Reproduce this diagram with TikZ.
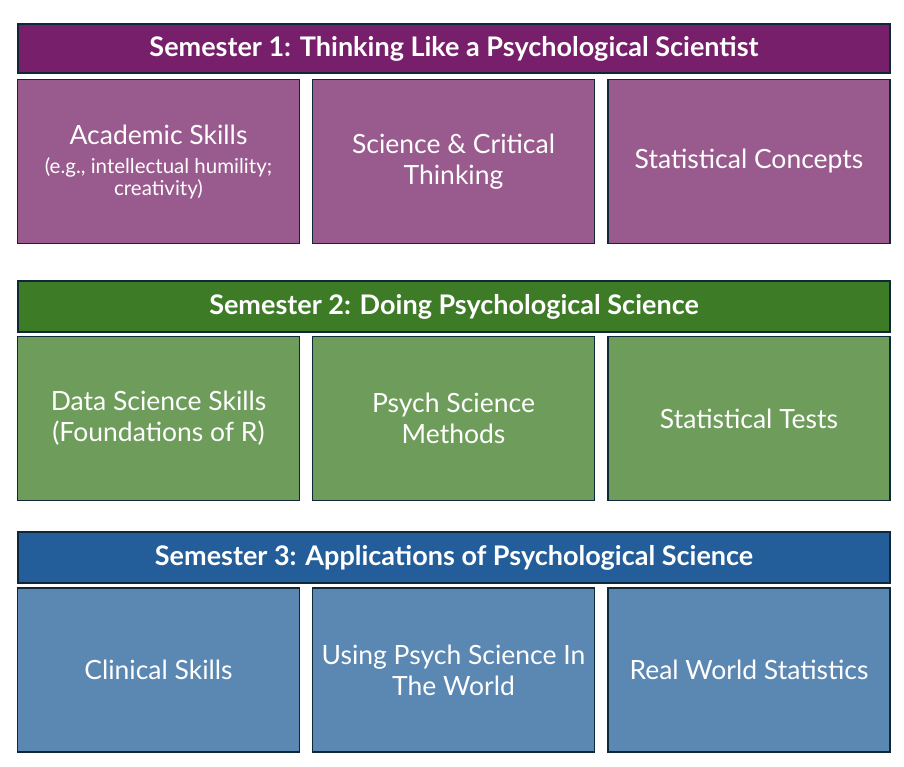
\documentclass[tikz,border=0pt]{standalone}
\usepackage{fontspec}
\setmainfont{Lato}
\definecolor{edge}{HTML}{0E2837}
\definecolor{purhead}{HTML}{771F6A}
\definecolor{purbox}{HTML}{995A8D}
\definecolor{grnhead}{HTML}{3E7B27}
\definecolor{grnbox}{HTML}{6E9D5B}
\definecolor{bluhead}{HTML}{245E9A}
\definecolor{blubox}{HTML}{5B87B3}
\newcommand{\subtxt}{\fontsize{20.5}{23}\selectfont}
\begin{document}
\begin{tikzpicture}[x=1pt,y=-1pt]
\tikzstyle{every node}=[rectangle,draw=edge,line width=1.6pt,text=white,align=center,inner sep=0pt]
\tikzstyle{head}=[minimum width=872pt,minimum height=49pt,font=\fontsize{27}{30}\selectfont\bfseries]
\tikzstyle{topic}=[minimum width=282pt,minimum height=164pt,font=\fontsize{26.5}{31}\selectfont]
\useasboundingbox (0,0) rectangle (904,766);
\node[head,fill=purhead] at (454,48.5) (s1) {Semester 1: Thinking Like a Psychological Scientist};
\node[topic,fill=purbox] at (158.5,161.5) (s1a) {Academic Skills\\[-2pt]\subtxt (e.g., intellectual humility;\\[-9pt]\subtxt creativity)};
\node[topic,fill=purbox] at (453.5,161.5) (s1b) {Science \& Critical\\Thinking};
\node[topic,fill=purbox] at (749,161.5) (s1c) {Statistical Concepts};
\node[head,fill=grnhead,minimum height=51pt] at (454,306.5) (s2) {Semester 2: Doing Psychological Science};
\node[topic,fill=grnbox] at (158.5,418.5) (s2a) {Data Science Skills\\(Foundations of R)};
\node[topic,fill=grnbox] at (453.5,418.5) (s2b) {Psych Science\\Methods};
\node[topic,fill=grnbox] at (749,418.5) (s2c) {Statistical Tests};
\node[head,fill=bluhead,minimum height=51pt] at (454,557.5) (s3) {Semester 3: Applications of Psychological Science};
\node[topic,fill=blubox] at (158.5,670) (s3a) {Clinical Skills};
\node[topic,fill=blubox] at (453.5,670) (s3b) {Using Psych Science In\\The World};
\node[topic,fill=blubox] at (749,670) (s3c) {Real World Statistics};
\end{tikzpicture}
\end{document}
